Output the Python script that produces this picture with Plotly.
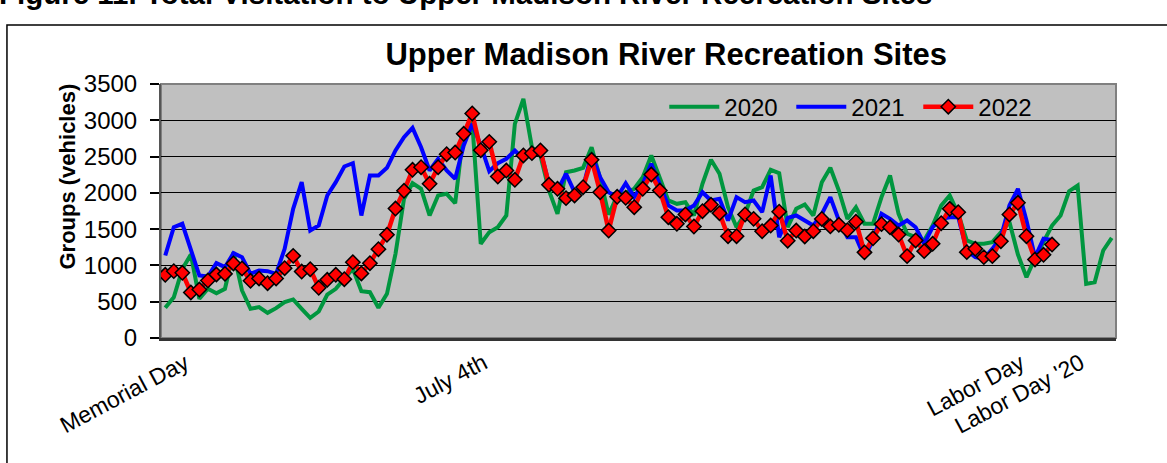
import plotly.graph_objects as go

# Grupos (vehiculos) por dia, desde Memorial Day
visitas_2020 = [416, 562, 950, 1151, 540, 678, 617, 678, 1183, 655,
                402, 425, 347, 411, 494, 531, 402, 278, 365, 599,
                678, 810, 954, 645, 631, 416, 609, 1160, 1918, 2133,
                2056, 1688, 1964, 1987, 1857, 2859, 2974, 1298, 1458, 1527,
                1688, 2951, 3296, 2629, 2515, 2032, 1711, 2285, 2308, 2345,
                2629, 2200, 1700, 1960, 2000, 2056, 2216, 2515, 2216, 1895,
                1849, 1871, 1688, 2125, 2456, 2263, 1802, 1527, 1711, 2032,
                2078, 2318, 2272, 1527, 1780, 1840, 1688, 2147, 2345, 2032,
                1642, 1802, 1574, 1574, 1941, 2239, 1711, 1436, 1389, 1344,
                1550, 1826, 1964, 1711, 1344, 1298, 1298, 1321, 1458, 1600,
                1150, 838, 1100, 1330, 1550, 1688, 2023, 2101, 746, 769,
                1206, 1381]
visitas_2021 = [1137, 1527, 1574, 1206, 861, 847, 1031, 976, 1169, 1114,
                884, 930, 921, 884, 1229, 1780, 2147, 1481, 1550, 1964,
                2147, 2363, 2409, 1688, 2239, 2239, 2345, 2584, 2767, 2896,
                2629, 2308, 2469, 2308, 2193, 2653, 2951, 2653, 2298, 2409,
                2469, 2584, 2469, 2561, 2584, 2125, 2032, 2263, 2009, 2078,
                2538, 2216, 2009, 1941, 2133, 1941, 2125, 2400, 2101, 1826,
                1757, 1757, 1826, 2009, 1895, 1918, 1619, 1941, 1871, 1895,
                1734, 2239, 1389, 1656, 1688, 1619, 1550, 1711, 1941, 1619,
                1389, 1389, 1114, 1344, 1711, 1642, 1550, 1619, 1527, 1298,
                1527, 1642, 1665, 1665, 1206, 1114, 1091, 1229, 1389, 1826,
                2056, 1619, 1114, 1367, 1350]
visitas_2022 = [871, 921, 898, 627, 668, 792, 875, 884, 1027, 958,
                788, 820, 755, 820, 962, 1132, 916, 948, 692, 802,
                871, 810, 1045, 889, 1031, 1224, 1422, 1784, 2028, 2318,
                2354, 2125, 2354, 2533, 2556, 2814, 3094, 2588, 2703, 2225,
                2308, 2180, 2515, 2547, 2584, 2111, 2056, 1927, 1964, 2078,
                2456, 2009, 1481, 1946, 1932, 1802, 2056, 2253, 2032, 1665,
                1574, 1702, 1536, 1747, 1835, 1720, 1403, 1403, 1702, 1642,
                1472, 1550, 1740, 1341, 1481, 1399, 1472, 1640, 1538, 1560,
                1486, 1603, 1180, 1374, 1569, 1527, 1426, 1128, 1344, 1197,
                1298, 1582, 1780, 1734, 1183, 1229, 1114, 1128, 1334, 1702,
                1863, 1403, 1082, 1146, 1288]

etiquetas_pos = [0, 35, 98, 105]
etiquetas_txt = ['Memorial Day', 'July 4th', 'Labor Day', "Labor Day '20"]

fuente = 'Arial, Liberation Sans, sans-serif'

fig = go.Figure()
fig.add_trace(go.Scatter(x=list(range(len(visitas_2020))), y=visitas_2020, name='2020',
                         mode='lines', line=dict(color='#00963F', width=4)))
fig.add_trace(go.Scatter(x=list(range(len(visitas_2021))), y=visitas_2021, name='2021',
                         mode='lines', line=dict(color='#0000FF', width=4)))
fig.add_trace(go.Scatter(x=list(range(len(visitas_2022))), y=visitas_2022, name='2022',
                         mode='lines+markers', line=dict(color='#FF0000', width=4.5),
                         marker=dict(symbol='diamond', size=11, color='#FF0000',
                                     line=dict(color='black', width=1.5))))

fig.update_layout(
    width=1167, height=463,
    margin=dict(l=161, r=51, t=84, b=125, autoexpand=False),
    paper_bgcolor='white', plot_bgcolor='#C0C0C0',
    font=dict(family=fuente, color='black', size=23),
    title=dict(text='<b>Upper Madison River Recreation Sites</b>', x=0.529, xref='paper',
               y=0.883, yref='container', xanchor='center', yanchor='middle',
               font=dict(size=31, family=fuente, color='black')),
    legend=dict(orientation='h', x=0.527, y=0.909, xanchor='left', yanchor='middle',
                bgcolor='rgba(0,0,0,0)', font=dict(size=24), itemwidth=50,
                entrywidth=62, entrywidthmode='pixels'),
    showlegend=True,
)

fig.update_xaxes(range=[-0.5, 111.5], tickmode='array', tickvals=etiquetas_pos,
                 ticktext=etiquetas_txt, tickangle=-28, ticks='', showgrid=False,
                 zeroline=False, showline=True, linecolor='#333333', linewidth=3,
                 tickfont=dict(size=23), ticklabelshift=20)
fig.update_yaxes(range=[0, 3500], dtick=500, ticks='outside', ticklen=9, tickwidth=1.5,
                 tickcolor='black', showgrid=True, gridcolor='black', gridwidth=1.3,
                 zeroline=False, showline=True, linecolor='#555555', linewidth=2,
                 tickfont=dict(size=24), ticklabelstandoff=8)

# borde del area de trazado y marco exterior
fig.add_shape(type='rect', xref='paper', yref='paper', x0=0, y0=0, x1=1, y1=1,
              line=dict(color='#808080', width=2), layer='below')
fig.add_shape(type='rect', xref='paper', yref='paper', x0=-0.1613, y0=1.2323, x1=1.3, y1=-0.9,
              line=dict(color='black', width=1.5))

fig.add_annotation(text='<b>Groups (vehicles)</b>', xref='paper', yref='paper',
                   x=-0.113, y=0.26, textangle=-90, showarrow=False,
                   font=dict(size=22, family=fuente, color='black'))
fig.add_annotation(text='<b>Figure 11. Total Visitation to Upper Madison River Recreation Sites</b>',
                   xref='paper', yref='paper', x=-0.172, y=1.2835, xanchor='left', yanchor='bottom',
                   showarrow=False, font=dict(size=29.5, family=fuente, color='black'))

fig.write_html("out.html", config={'displayModeBar': False},
               post_script="document.body.style.margin='0';")
